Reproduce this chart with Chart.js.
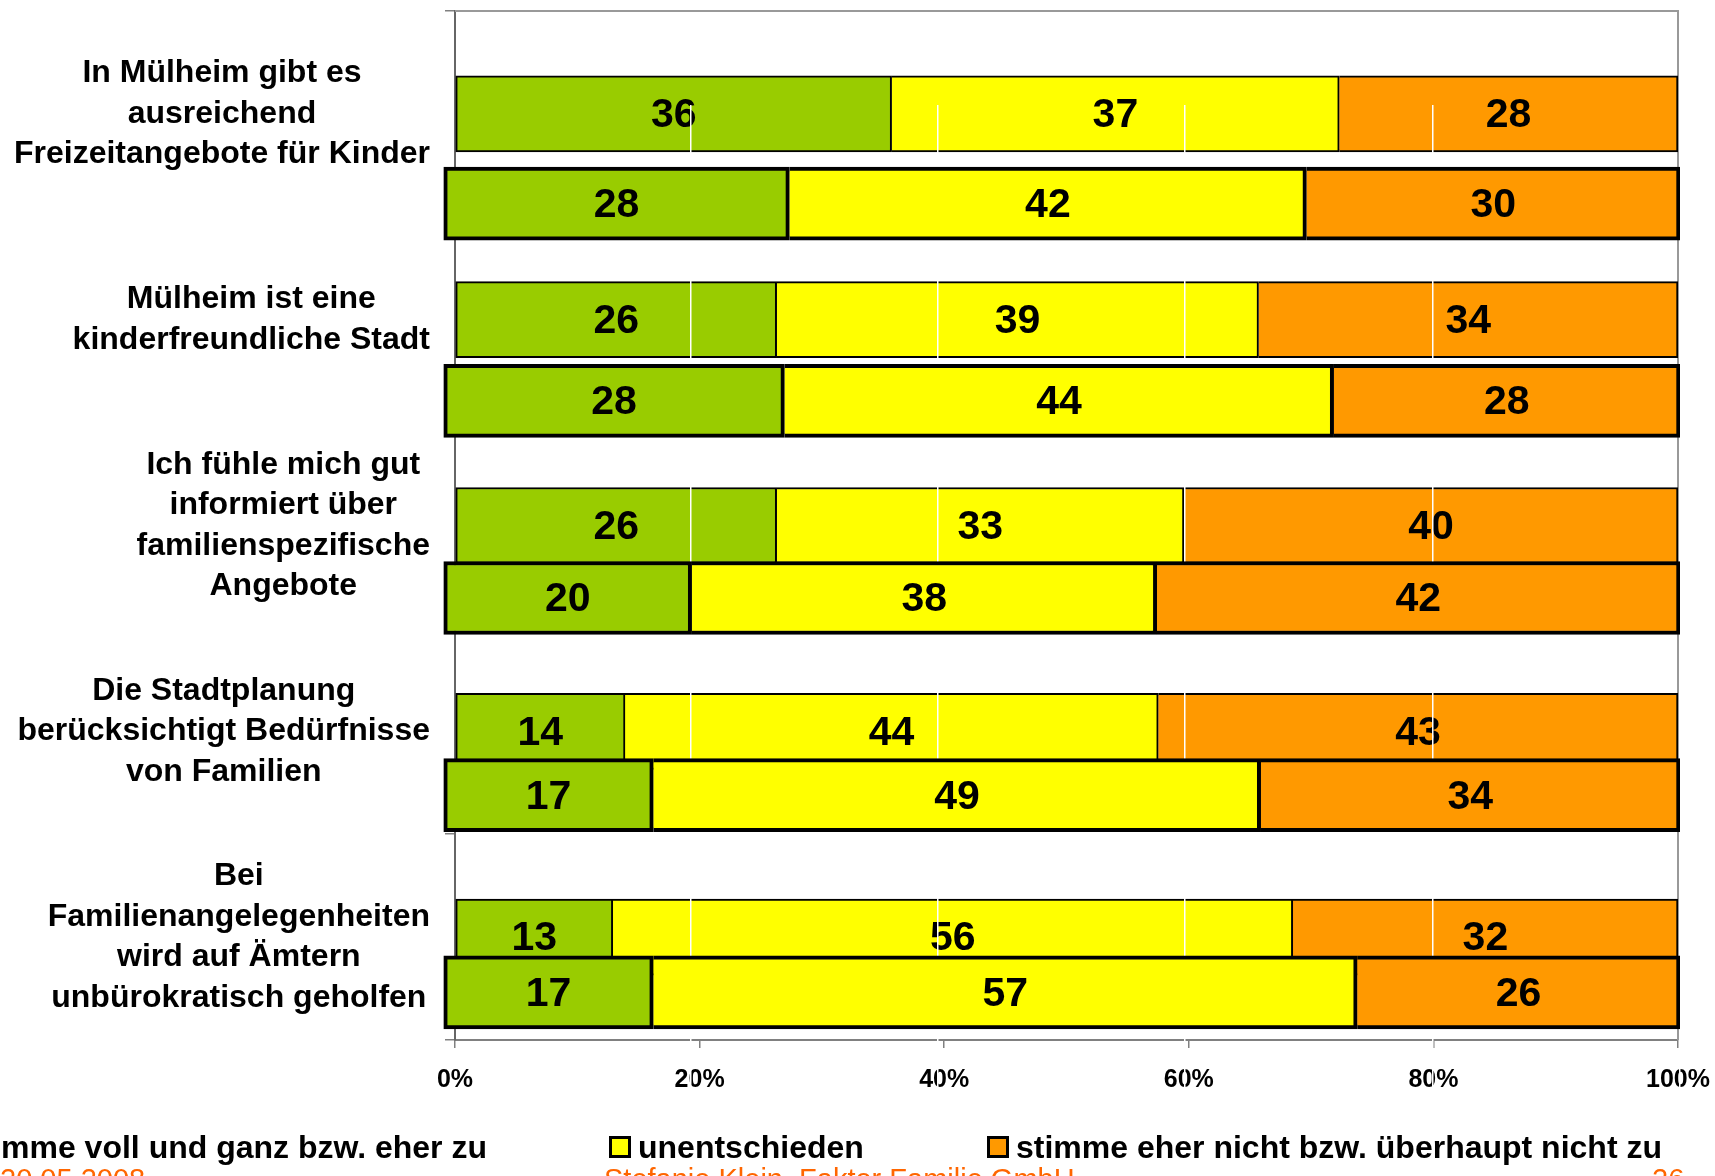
<!DOCTYPE html>
<html>
<head>
<meta charset="utf-8">
<script src="https://cdn.jsdelivr.net/npm/chart.js@4.4.1/dist/chart.umd.min.js"></script>
<style>
  html, body { margin: 0; padding: 0; background: #fff; }
  body { width: 1715px; height: 1176px; overflow: hidden; position: relative; font-family: "Liberation Sans", Arial, sans-serif; }
  canvas { position: absolute; left: 0; top: 0; }
  #vorne { pointer-events: none; }
  .leg { position: absolute; top: 1127px; height: 40px; display: flex; align-items: center; gap: 7px; white-space: nowrap; font-weight: bold; font-size: 32px; color: #000; }
  .box { width: 16px; height: 16px; border: 3px solid #000; }
  .fuss { position: absolute; top: 1165px; font-size: 29px; line-height: 1; color: #ff6600; white-space: nowrap; }
</style>
</head>
<body>
<canvas id="hinten" width="1715" height="1176"></canvas>
<canvas id="vorne" width="1715" height="1176"></canvas>

<div class="leg" style="right:1228px"><div class="box" style="background:#99cc00"></div><span>stimme voll und ganz bzw. eher zu</span></div>
<div class="leg" style="left:609px"><div class="box" style="background:#ffff00"></div><span>unentschieden</span></div>
<div class="leg" style="left:987px"><div class="box" style="background:#ff9900"></div><span>stimme eher nicht bzw. überhaupt nicht zu</span></div>

<div class="fuss" style="left:0px">20.05.2008</div>
<div class="fuss" style="left:604px">Stefanie Klein, Faktor Familie GmbH</div>
<div class="fuss" style="left:1652px">26</div>

<script>
// Kategorien (mehrzeilig)
const kategorien = [
  ['In Mülheim gibt es', 'ausreichend', 'Freizeitangebote für Kinder'],
  ['Mülheim ist eine', 'kinderfreundliche Stadt'],
  ['Ich fühle mich gut', 'informiert über', 'familienspezifische', 'Angebote'],
  ['Die Stadtplanung', 'berücksichtigt Bedürfnisse', 'von Familien'],
  ['Bei', 'Familienangelegenheiten', 'wird auf Ämtern', 'unbürokratisch geholfen']
];

// hintere Balken (duenner Rand)
const gruenHinten  = [35.7, 26.3, 26.3, 13.9, 12.9];
const gelbHinten   = [36.6, 39.4, 33.3, 43.6, 55.6];
const orangeHinten = [27.7, 34.3, 40.4, 42.5, 31.5];

// vordere Balken (dicker Rand)
const gruenVorne  = [28.0, 27.6, 20.1, 17.0, 17.0];
const gelbVorne   = [41.8, 44.4, 37.6, 49.1, 56.9];
const orangeVorne = [30.2, 28.0, 42.3, 33.9, 26.1];

const serien = ['stimme voll und ganz bzw. eher zu', 'unentschieden', 'stimme eher nicht bzw. überhaupt nicht zu'];
const farben = ['#99CC00', '#FFFF00', '#FF9900'];

const schrift = '"Liberation Sans", Arial, sans-serif';
const labels = kategorien.map(z => z.join(' '));

// Zahlen in die Balken
const zahlenPlugin = {
  id: 'zahlen',
  afterDatasetsDraw(chart) {
    const ctx = chart.ctx;
    ctx.save();
    ctx.font = 'bold 41px ' + schrift;
    ctx.fillStyle = '#000';
    ctx.textAlign = 'center';
    ctx.textBaseline = 'middle';
    chart.data.datasets.forEach((ds, i) => {
      chart.getDatasetMeta(i).data.forEach((bar, j) => {
        ctx.fillText(Math.round(ds.data[j]), (bar.x + bar.base) / 2, bar.y + 2);
      });
    });
    ctx.restore();
  }
};

// Achsenbeschriftung links, jede Zeile zentriert, Block rechtsbuendig
const beschriftungPlugin = {
  id: 'beschriftung',
  afterDraw(chart) {
    const ctx = chart.ctx;
    const y = chart.scales.y;
    ctx.save();
    ctx.font = 'bold 32px ' + schrift;
    ctx.fillStyle = '#000';
    ctx.textAlign = 'center';
    ctx.textBaseline = 'middle';
    kategorien.forEach((zeilen, i) => {
      const mitte = y.getPixelForValue(i);
      const breit = Math.max(...zeilen.map(z => ctx.measureText(z).width));
      const cx = chart.chartArea.left - 25 - breit / 2;
      zeilen.forEach((z, k) => {
        ctx.fillText(z, cx, mitte + (k - (zeilen.length - 1) / 2) * 40.5);
      });
    });
    ctx.restore();
  }
};

// grauer Rahmen oben / rechts
const rahmenPlugin = {
  id: 'rahmen',
  beforeDatasetsDraw(chart) {
    const a = chart.chartArea, ctx = chart.ctx;
    ctx.save();
    ctx.strokeStyle = '#999';
    ctx.lineWidth = 2;
    ctx.beginPath();
    ctx.moveTo(a.left, a.top);
    ctx.lineTo(a.right, a.top);
    ctx.lineTo(a.right, a.bottom);
    ctx.stroke();
    ctx.restore();
  }
};

function datensaetze(werte, rand, dicke) {
  return werte.map((w, i) => ({
    label: serien[i],
    data: w,
    backgroundColor: farben[i],
    borderColor: '#000',
    borderWidth: rand,
    borderSkipped: i == 0 ? false : 'start',
    barThickness: dicke
  }));
}

// hinteres Diagramm mit Achsen
new Chart(document.getElementById('hinten'), {
  type: 'bar',
  data: {
    labels: labels,
    datasets: datensaetze([gruenHinten, gelbHinten, orangeHinten], 2, 76)
  },
  options: {
    indexAxis: 'y',
    responsive: false,
    animation: false,
    devicePixelRatio: 1,
    layout: { padding: { left: 0, right: 37, top: 11, bottom: 76 } },
    plugins: { legend: { display: false }, tooltip: { enabled: false } },
    scales: {
      x: {
        stacked: true, min: 0, max: 100,
        ticks: { stepSize: 20, callback: v => v + '%', color: '#000', padding: 17, font: { family: schrift, size: 25, weight: 'bold' } },
        grid: { drawOnChartArea: false, tickLength: 8, color: '#808080', lineWidth: 1.5 },
        border: { color: '#808080', width: 2 },
        afterFit(s) { s.height = 60; s.paddingLeft = 0; s.paddingRight = 0; }
      },
      y: {
        stacked: true,
        ticks: { display: false },
        grid: { drawOnChartArea: false, tickLength: 10, color: '#808080', lineWidth: 1.5 },
        border: { color: '#666', width: 2 },
        afterFit(s) { s.width = 455; s.paddingTop = 0; s.paddingBottom = 0; }
      }
    }
  },
  plugins: [rahmenPlugin, zahlenPlugin, beschriftungPlugin]
});

// vorderes Diagramm, transparent darueber
new Chart(document.getElementById('vorne'), {
  type: 'bar',
  data: {
    labels: labels,
    datasets: datensaetze([gruenVorne, gelbVorne, orangeVorne], 4, 73)
  },
  options: {
    indexAxis: 'y',
    responsive: false,
    animation: false,
    devicePixelRatio: 1,
    layout: { padding: { left: 443, right: 35, top: 105, bottom: 85 } },
    plugins: { legend: { display: false }, tooltip: { enabled: false } },
    scales: {
      x: {
        stacked: true, min: 0, max: 100,
        ticks: { display: false, stepSize: 20 },
        grid: { drawTicks: false, lineWidth: 1.5, color: c => c.tick && c.tick.value == 0 ? 'rgba(0,0,0,0)' : '#ffffff' },
        border: { display: false },
        afterFit(s) { s.height = 0; s.paddingLeft = 0; s.paddingRight = 0; }
      },
      y: { stacked: true, display: false }
    }
  },
  plugins: [zahlenPlugin]
});
</script>
</body>
</html>
